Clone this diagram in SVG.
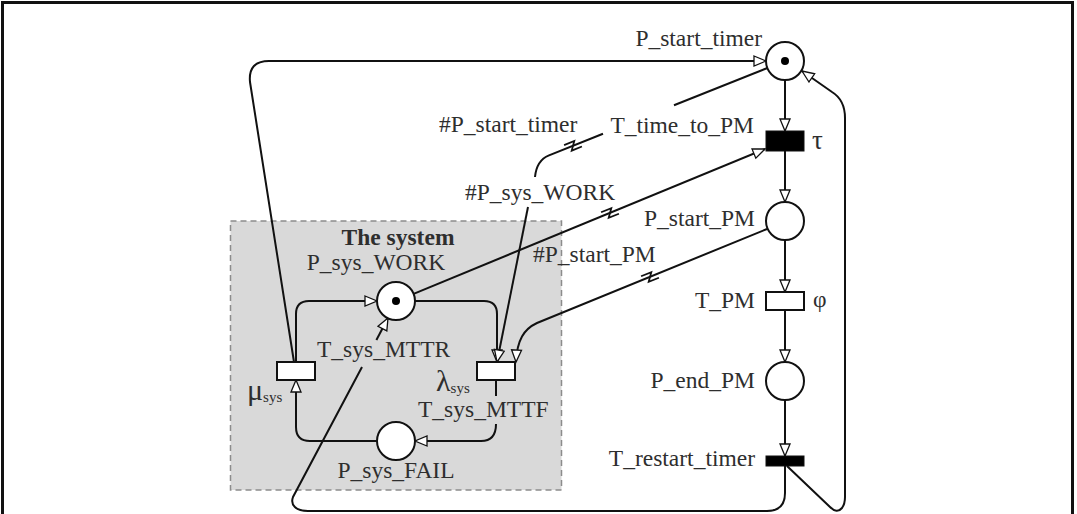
<svg xmlns="http://www.w3.org/2000/svg" xmlns:xlink="http://www.w3.org/1999/xlink" width="1077" height="514" viewBox="0 0 1077 514">
<style>
.t{font-family:"Liberation Serif","Times New Roman",serif;font-size:23.5px;fill:#2e2e2e}
.b{font-weight:bold}
.e{text-anchor:end}
.m{text-anchor:middle}
.ln{fill:none;stroke:#111;stroke-width:2}
.arr{marker-end:url(#ah)}
.pl{fill:#fff;stroke:#111;stroke-width:2}
.tw{fill:#fff;stroke:#111;stroke-width:2}
.tb{fill:#000;stroke:#111;stroke-width:1}
.tok{fill:#000}
.zz{fill:none;stroke:#111;stroke-width:1.8;stroke-linejoin:miter}
</style>
<defs>
<marker id="ah" markerUnits="userSpaceOnUse" markerWidth="16" markerHeight="14" refX="13" refY="6" orient="auto">
<path d="M1,1 L13,6 L1,11 Z" fill="#fff" stroke="#111" stroke-width="1.3"/>
</marker>
<path id="zig" d="M -8 -4 H 3 L -3 4 H 8"/>
</defs>
<rect width="1077" height="514" fill="#fff"/>
<path d="M2.5,516 V2.5 H1072.5 V516" fill="none" stroke="#111" stroke-width="3"/>
<g id="system-box">
<rect x="230.5" y="221" width="331" height="269" fill="#d9d9d9" stroke="#8c8c8c" stroke-width="1.5" stroke-dasharray="6 4"/>
<text class="t b m" x="398" y="245">The system</text>
</g>
<g id="connectors">
<path class="ln arr" d="M785 80 V131"/>
<path class="ln arr" d="M785 151 V202"/>
<path class="ln arr" d="M785 240 V292"/>
<path class="ln arr" d="M785 310 V362"/>
<path class="ln arr" d="M785 400 V456"/>
<path class="ln arr" d="M787 466 L830 507 Q837 514 842 508 Q845 504 845 497 V118 Q845 100 832 92 L802 71"/>
<path class="ln" d="M785 466 V493 Q785 511 767 511 H308 C296 511 290 505 293 497 L362 367"/>
<path class="ln arr" d="M376.4 340 L388 318"/>
<path class="ln arr" d="M294 362 L250 82 Q248 61 269 61 H766"/>
<path class="ln arr" d="M296 362 V314 Q296 301 309 301 H377"/>
<path class="ln arr" d="M415 301 H484 Q497 301 497 314 V362"/>
<path class="ln arr" d="M377 441 H310 Q296 441 296 427 V380"/>
<path class="ln" d="M496 380 V396"/>
<path class="ln arr" d="M496 424 Q496 441 481 441 H415"/>
<path class="ln arr" d="M413.6 293.8 L765 149"/>
<use xlink:href="#zig" class="zz" transform="translate(610,213) rotate(-22)"/>
<path class="ln" d="M767.4 68 L674 105.3"/>
<path class="ln" d="M603 133.8 L549 155.4 C540 159 536 167 535 177"/>
<use xlink:href="#zig" class="zz" transform="translate(573,145.8) rotate(-22)"/>
<path class="ln arr" d="M528 207 L497 362"/>
<path class="ln arr" d="M767 229 L537 323 C524 329 517 340 516 362"/>
<use xlink:href="#zig" class="zz" transform="translate(650,277) rotate(-22)"/>
</g>
<g id="P_start_timer">
<circle class="pl" cx="785" cy="61" r="19"/>
<circle class="tok" cx="785" cy="61" r="4"/>
<text class="t e" x="762" y="46">P_start_timer</text>
</g>
<g id="T_time_to_PM">
<rect class="tb" x="766" y="131" width="38" height="20"/>
<text class="t e" x="754" y="133">T_time_to_PM</text>
<text class="t" x="812" y="149" style="font-size:27px">τ</text>
</g>
<g id="P_start_PM">
<circle class="pl" cx="785" cy="221" r="19"/>
<text class="t e" x="755" y="226">P_start_PM</text>
</g>
<g id="T_PM">
<rect class="tw" x="766" y="292" width="38" height="18"/>
<text class="t e" x="755" y="308">T_PM</text>
<text class="t" x="813" y="307">φ</text>
</g>
<g id="P_end_PM">
<circle class="pl" cx="785" cy="381" r="19"/>
<text class="t e" x="755" y="388">P_end_PM</text>
</g>
<g id="T_restart_timer">
<rect class="tb" x="766" y="456" width="38" height="10"/>
<text class="t e" x="755" y="466">T_restart_timer</text>
</g>
<g id="P_sys_WORK">
<circle class="pl" cx="396" cy="301" r="19"/>
<circle class="tok" cx="396" cy="301" r="4"/>
<text class="t m" x="376" y="270">P_sys_WORK</text>
</g>
<g id="T_sys_MTTR">
<rect class="tw" x="277" y="362" width="38" height="18"/>
<text class="t" x="317" y="357">T_sys_MTTR</text>
<text class="t" x="247" y="400" style="font-size:30px">μ<tspan style="font-size:15px" dy="2">sys</tspan></text>
</g>
<g id="T_sys_MTTF">
<rect class="tw" x="477" y="362" width="38" height="18"/>
<text class="t" x="418" y="417">T_sys_MTTF</text>
<text class="t" x="436" y="391" style="font-size:30px">λ<tspan style="font-size:15px" dy="2">sys</tspan></text>
</g>
<g id="P_sys_FAIL">
<circle class="pl" cx="396" cy="441" r="19"/>
<text class="t m" x="396" y="478">P_sys_FAIL</text>
</g>
<g id="arc-labels">
<text class="t" x="439" y="132">#P_start_timer</text>
<text class="t" x="465" y="200">#P_sys_WORK</text>
<text class="t" x="533" y="262">#P_start_PM</text>
</g>
</svg>
